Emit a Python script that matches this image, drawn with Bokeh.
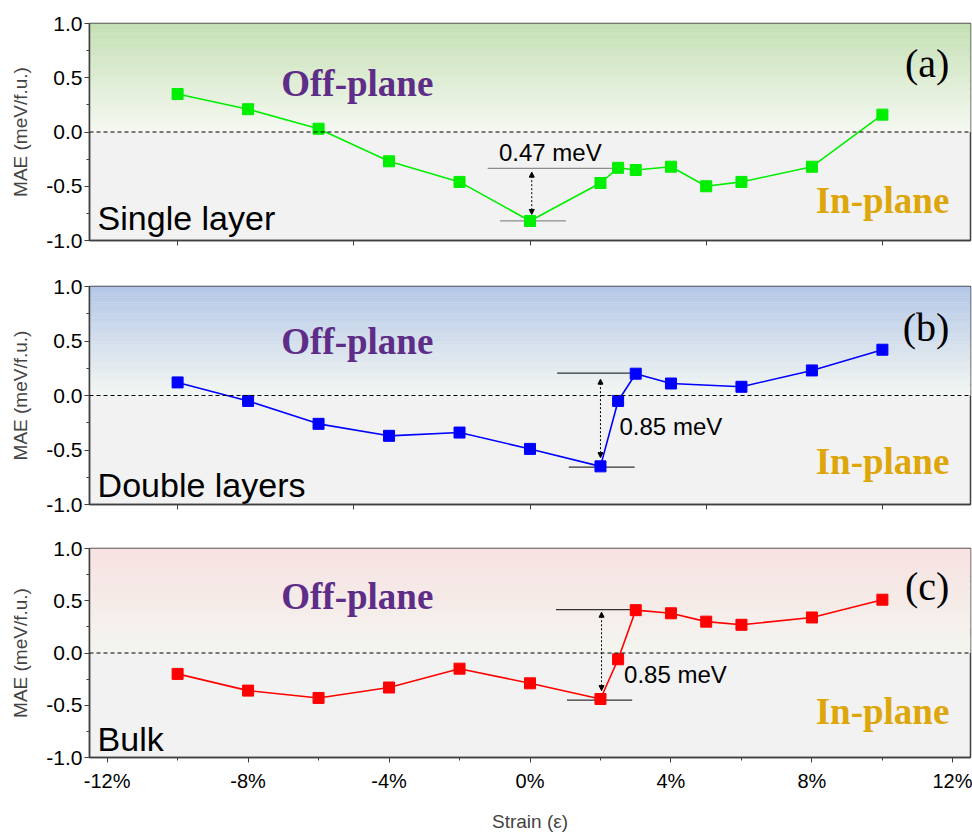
import numpy as np
from bokeh.plotting import figure
from bokeh.layouts import column
from bokeh.models import Range1d, FixedTicker, Arrow, NormalHead, Span
from bokeh.core.properties import value
from bokeh.embed import file_html
from bokeh.resources import INLINE

# ---------------- data ----------------
strain_a = [-10, -8, -6, -4, -2, 0, 2, 2.5, 3, 4, 5, 6, 8, 10]
mae_a = [0.35, 0.21, 0.03, -0.27, -0.46, -0.82, -0.47, -0.33, -0.35, -0.32, -0.50, -0.46, -0.32, 0.16]

strain_b = [-10, -8, -6, -4, -2, 0, 2, 2.5, 3, 4, 6, 8, 10]
mae_b = [0.12, -0.05, -0.26, -0.37, -0.34, -0.49, -0.65, -0.05, 0.20, 0.11, 0.08, 0.23, 0.42]

strain_c = [-10, -8, -6, -4, -2, 0, 2, 2.5, 3, 4, 5, 6, 8, 10]
mae_c = [-0.20, -0.36, -0.43, -0.33, -0.15, -0.29, -0.44, -0.06, 0.41, 0.38, 0.30, 0.27, 0.34, 0.51]

panel_names = ["Single layer", "Double layers", "Bulk"]
panel_tags = ["(a)", "(b)", "(c)"]
gap_labels = ["0.47 meV", "0.85 meV", "0.85 meV"]

y_ticks = [-1.0, -0.5, 0.0, 0.5, 1.0]
y_tick_labels = ["-1.0", "-0.5", "0.0", "0.5", "1.0"]
y_minor = [-0.75, -0.25, 0.25, 0.75]
x_ticks = [-12, -8, -4, 0, 4, 8, 12]
x_tick_labels = ["-12%", "-8%", "-4%", "0%", "4%", "8%", "12%"]
x_minor = [-10, -6, -2, 2, 6, 10]
x_ticks_top = [-10, -5, 0, 5, 10]
x_tick_labels_top = ["", "", "", "", ""]

# ---------------- styling ----------------
SANS = "Liberation Sans"
SERIF = "Liberation Serif"
AXIS_COL = "#404040"

panel_cfg = [
    dict(color="#00EE00", top_rgb=(195, 223, 178), zero_rgb=(246, 249, 242),
         height=263, bt=23, bb=23,
         off_y=0.45, in_y=-0.63, tag_y=0.63, name_y=-0.79,
         ann_col="#8c8c8c",
         upper=(-1.2, 2.55, -0.335), lower=(-0.85, 1.02, -0.82),
         arrow=(0.05, -0.37, -0.76), gap_xy=(-0.88, -0.19)),
    dict(color="#0000FF", top_rgb=(178, 198, 231), zero_rgb=(244, 247, 242),
         height=263, bt=23, bb=22,
         off_y=0.50, in_y=-0.61, tag_y=0.62, name_y=-0.82,
         ann_col="#333333",
         upper=(0.77, 2.94, 0.205), lower=(1.1, 2.97, -0.657),
         arrow=(2.0, 0.15, -0.57), gap_xy=(2.54, -0.28)),
    dict(color="#FF0000", top_rgb=(247, 225, 225), zero_rgb=(244, 245, 239),
         height=308, bt=22, bb=66,
         off_y=0.545, in_y=-0.56, tag_y=0.64, name_y=-0.82,
         ann_col="#333333",
         upper=(0.74, 3.08, 0.415), lower=(1.05, 2.9, -0.45),
         arrow=(2.03, 0.39, -0.36), gap_xy=(2.67, -0.21)),
]
series = [(strain_a, mae_a), (strain_b, mae_b), (strain_c, mae_c)]

W = 972
BL = 89
BR = 2


def make_panel(i):
    cfg = panel_cfg[i]
    xs, ys = series[i]
    last = (i == 2)
    p = figure(width=W, height=cfg["height"], output_backend="svg",
               toolbar_location=None,
               x_range=Range1d(-12.5, 12.5), y_range=Range1d(-1, 1),
               min_border_left=BL, min_border_right=BR,
               min_border_top=cfg["bt"], min_border_bottom=cfg["bb"])
    p.grid.visible = False
    p.background_fill_color = "#F2F2F2"
    p.border_fill_color = "white"
    p.outline_line_color = AXIS_COL
    p.outline_line_width = 1.5
    p.outline_line_alpha = 1.0

    # gradient background of the upper (off-plane) half
    n = 60
    edges = np.linspace(0, 1, n + 1)
    t = (edges[:-1] + edges[1:]) / 2
    c0 = np.array(cfg["zero_rgb"], float)
    c1 = np.array(cfg["top_rgb"], float)
    cols = []
    for tt in t:
        c = c0 + (c1 - c0) * tt
        cols.append("#%02x%02x%02x" % tuple(int(round(v)) for v in c))
    p.quad(left=-20, right=20, bottom=edges[:-1], top=edges[1:] + 0.002,
           fill_color=cols, line_color=None)

    p.add_layout(Span(location=0, dimension="width", line_color="black",
                      line_dash="4 3", line_width=1))

    # annotation lines and arrow
    ux0, ux1, uy = cfg["upper"]
    lx0, lx1, ly = cfg["lower"]
    p.segment(x0=[ux0, lx0], y0=[uy, ly], x1=[ux1, lx1], y1=[uy, ly],
              line_color=cfg["ann_col"], line_width=1.2)
    ax, ay0, ay1 = cfg["arrow"]
    p.add_layout(Arrow(start=NormalHead(size=5, fill_color="black", line_color="black"),
                       end=NormalHead(size=5, fill_color="black", line_color="black"),
                       x_start=ax, y_start=ay0, x_end=ax, y_end=ay1,
                       line_dash="2 2", line_width=1, line_color="black"))

    # data
    p.line(xs, ys, line_color=cfg["color"], line_width=1.6)
    p.scatter(xs, ys, marker="square", size=11, fill_color=cfg["color"],
              line_color=cfg["color"])

    # texts
    p.text(x=[-4.9], y=[cfg["off_y"]], text=["Off-plane"],
           text_font=value(SERIF), text_font_style="bold",
           text_font_size="37px", text_color="#5E2D88",
           text_align="center", text_baseline="middle")
    p.text(x=[11.9], y=[cfg["in_y"]], text=["In-plane"],
           text_font=value(SERIF), text_font_style="bold",
           text_font_size="37px", text_color="#DDA60A",
           text_align="right", text_baseline="middle")
    p.text(x=[11.9], y=[cfg["tag_y"]], text=[panel_tags[i]],
           text_font=value(SERIF), text_font_size="40px", text_color="black",
           text_align="right", text_baseline="middle")
    p.text(x=[-12.27], y=[cfg["name_y"]], text=[panel_names[i]],
           text_font=value(SANS), text_font_size="34px", text_color="black",
           text_align="left", text_baseline="middle")
    gx, gy = cfg["gap_xy"]
    p.text(x=[gx], y=[gy], text=[gap_labels[i]],
           text_font=value(SANS), text_font_size="24px", text_color="black",
           text_align="left", text_baseline="middle")

    # y axis
    ya = p.yaxis[0]
    ya.ticker = FixedTicker(ticks=y_ticks, minor_ticks=y_minor)
    ya.major_label_overrides = dict(zip(y_ticks, y_tick_labels))
    ya.axis_label = "MAE (meV/f.u.)"
    ya.axis_label_text_font = SANS
    ya.axis_label_text_font_style = "normal"
    ya.axis_label_text_font_size = "19px"
    ya.axis_label_standoff = 12
    ya.major_label_text_font = SANS
    ya.major_label_text_font_size = "21px"
    ya.major_label_text_color = "black"
    ya.major_label_standoff = 2
    ya.major_tick_in = 0
    ya.major_tick_out = 5
    ya.minor_tick_in = 0
    ya.minor_tick_out = 3
    ya.axis_line_color = AXIS_COL
    ya.axis_line_width = 1.5
    ya.major_tick_line_color = AXIS_COL
    ya.minor_tick_line_color = AXIS_COL

    # x axis
    xa = p.xaxis[0]
    xa.major_tick_in = 0
    xa.major_tick_out = 5
    xa.minor_tick_in = 0
    xa.minor_tick_out = 3
    xa.axis_line_color = AXIS_COL
    xa.axis_line_width = 1.5
    xa.major_tick_line_color = AXIS_COL
    xa.minor_tick_line_color = AXIS_COL
    if last:
        xa.ticker = FixedTicker(ticks=x_ticks, minor_ticks=x_minor)
        xa.major_label_overrides = dict(zip(x_ticks, x_tick_labels))
        xa.major_label_text_font = SANS
        xa.major_label_text_font_size = "20px"
        xa.major_label_text_color = "black"
        xa.major_label_standoff = 7
        xa.axis_label = "Strain (ε)"
        xa.axis_label_text_font = SANS
        xa.axis_label_text_font_style = "normal"
        xa.axis_label_text_font_size = "19px"
        xa.axis_label_standoff = 16
    else:
        xa.ticker = FixedTicker(ticks=x_ticks_top, minor_ticks=[])
        xa.major_label_overrides = dict(zip(x_ticks_top, x_tick_labels_top))
    return p


panels = [make_panel(i) for i in range(3)]
layout = column(*panels, spacing=0)
open("out.html", "w").write(file_html(layout, INLINE))
